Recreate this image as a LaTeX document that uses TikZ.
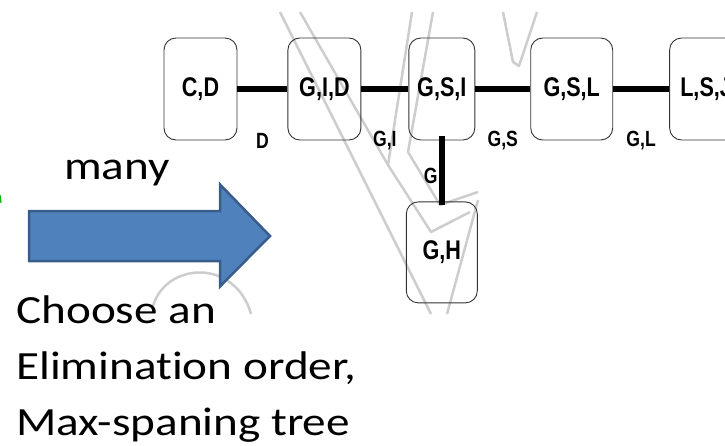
\documentclass[tikz,border=0pt]{standalone}
\usepackage{fontspec}
\usepackage{xcolor}
\usepackage{tikz}
\usetikzlibrary{positioning}
\newfontfamily\treefont[FakeStretch=0.8]{Liberation Sans}
\newfontfamily\slidefont[FakeStretch=1.18,Ligatures=NoCommon]{Carlito}
\definecolor{shaft}{HTML}{4F81BD}
\definecolor{shaftedge}{HTML}{385D8A}
\definecolor{faint}{HTML}{CDCDCD}

\begin{document}
\begin{tikzpicture}[x=1pt,y=-1pt,
  node distance=50pt,
  clique/.style={draw=black!80,line width=0.9pt,rounded corners=12pt,minimum height=102pt,minimum width=73pt,inner sep=2pt,font=\treefont\bfseries\fontsize{27}{29}\selectfont},
  sepset/.style={font=\treefont\bfseries\fontsize{22}{24}\selectfont,inner sep=0pt},
  link/.style={line width=6.5pt},
  faintline/.style={faint,line width=2.5pt,line join=round},
  slide/.style={font=\slidefont\fontsize{40}{56}\selectfont,inner sep=0pt}
]
\useasboundingbox (0,0) rectangle (725,445);

% faded logo behind the tree
\draw[faintline] (280,12) -- (431,314);
\draw[faintline] (300,12) -- (388,165);
\draw[faintline] (412,12) -- (388,165) -- (431,232) -- (470,212);
\draw[faintline] (433,12) -- (408,152) -- (440,205) -- (478,192);
\draw[faintline] (478,200) -- (447,314);
\draw[faintline] (503,12) -- (513,62) -- (519,66) -- (537,12);
\draw[faintline] (153,306) .. controls (166,262) and (235,258) .. (251,314);
\draw[green!70!black,line width=1.2pt] (0,195) -- (1,203);

% clique tree
\node[clique] (cd) at (200.5,89) {C,D};
\node[clique,right=50pt of cd] (gid) {G,I,D};
\node[clique,minimum width=66pt,right=47pt of gid] (gsi) {G,S,I};
\node[clique,minimum width=82pt,right=55pt of gsi] (gsl) {G,S,L};
\node[clique,right=56pt of gsl] (lsj) {L,S,J};
\node[clique,minimum width=71pt,minimum height=101pt,below=61pt of gsi] (gh) {G,H};

\draw[link] (cd) -- (gid) node[sepset,midway,yshift=-52pt] {D};
\draw[link] (gid) -- (gsi) node[sepset,midway,yshift=-52pt] {G,I};
\draw[link] (gsi) -- (gsl) node[sepset,midway,yshift=-52pt] {G,S};
\draw[link] (gsl) -- (lsj) node[sepset,midway,yshift=-52pt] {G,L};
\draw[link,shorten <=-4pt,shorten >=-4pt] (gsi) -- (gh) node[sepset,midway,xshift=-11pt,yshift=-5pt] {G};

% block arrow and slide text
\draw[fill=shaft,draw=shaftedge,line width=2.5pt] (29,211) -- (220,211) -- (220,184.5) -- (270,236) -- (220,286.5) -- (220,261) -- (29,261) -- cycle;
\node[slide,anchor=base west] (many) at (64,179) {many};
\node[slide,anchor=base west,align=left] (howto) at (16,435) {Choose an\\Elimination order,\\Max-spaning tree};
\end{tikzpicture}
\end{document}
